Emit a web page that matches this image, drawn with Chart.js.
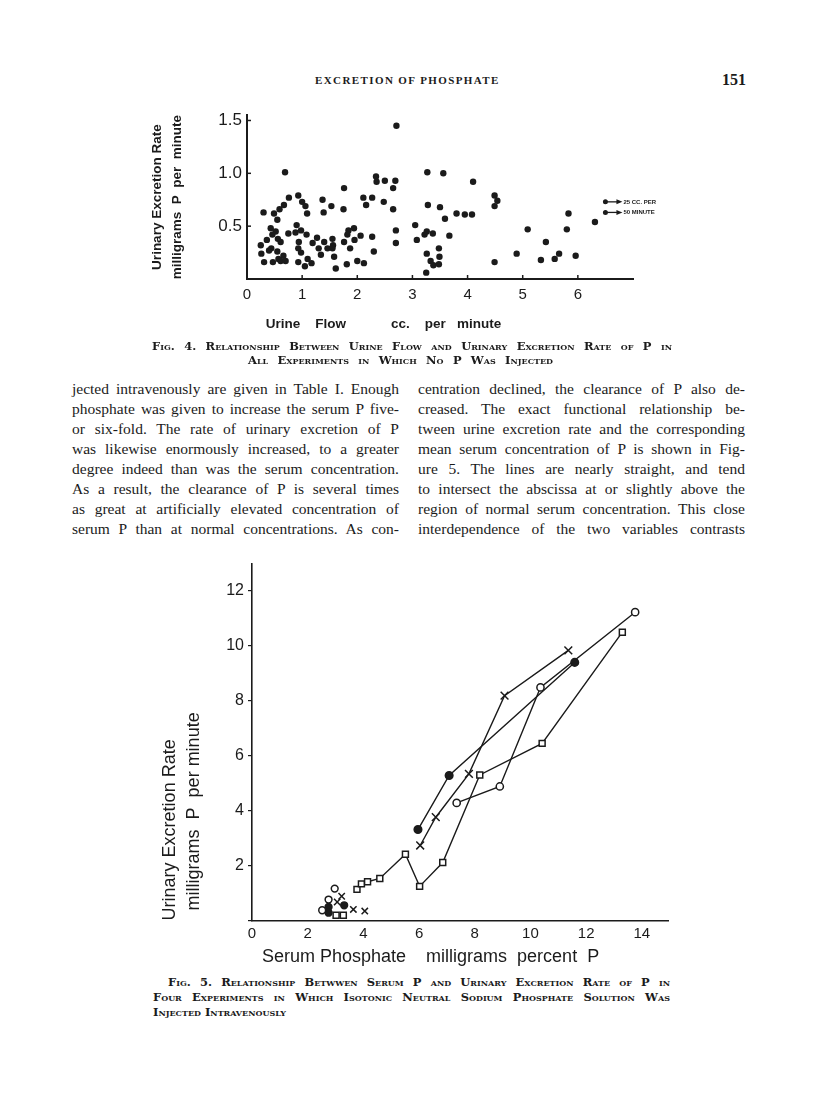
<!DOCTYPE html>
<html lang="en">
<head>
<meta charset="utf-8">
<title>Excretion of Phosphate</title>
<script src="https://cdn.jsdelivr.net/npm/chart.js@4.4.1/dist/chart.umd.min.js"></script>
<style>
  html, body { margin: 0; padding: 0; background: #fff; }
  #page { position: relative; width: 816px; height: 1101px; overflow: hidden; color: #1b1b1b; font-family: "Liberation Serif", "DejaVu Serif", serif; }
  .abs { position: absolute; white-space: nowrap; }
  .head { font-weight: bold; font-size: 11px; line-height: 14px; letter-spacing: 1.4px; }
  .caption { position: absolute; font-family: "DejaVu Serif", serif; font-weight: bold; font-variant: small-caps; font-size: 11.5px; line-height: 13px; }
  .just { text-align: justify; text-align-last: justify; }
  .col { position: absolute; width: 327px; font-size: 15.5px; line-height: 20px; }
  .col div { text-align: justify; text-align-last: justify; }
  canvas { position: absolute; }
</style>
</head>
<body>
<div id="page">

  <div class="abs head" style="left:315px; top:73px;">EXCRETION OF PHOSPHATE</div>
  <div class="abs" style="left:722px; top:71px; font-size:16px; line-height:18px; font-weight:bold;">151</div>

  <canvas id="fig4" width="520" height="242" style="left:140px; top:100px;"></canvas>

  <div class="caption just" style="left:152px; top:340px; width:520px;">Fig. 4. Relationship Between Urine Flow and Urinary Excretion Rate of P in</div>
  <div class="caption just" style="left:248px; top:354px; width:305px;">All Experiments in Which No P Was Injected</div>

  <div class="col" style="left:72px; top:379px;">
    <div>jected intravenously are given in Table I. Enough</div>
    <div>phosphate was given to increase the serum P five-</div>
    <div>or six-fold. The rate of urinary excretion of P</div>
    <div>was likewise enormously increased, to a greater</div>
    <div>degree indeed than was the serum concentration.</div>
    <div>As a result, the clearance of P is several times</div>
    <div>as great at artificially elevated concentration of</div>
    <div>serum P than at normal concentrations. As con-</div>
  </div>
  <div class="col" style="left:418px; top:379px;">
    <div>centration declined, the clearance of P also de-</div>
    <div>creased. The exact functional relationship be-</div>
    <div>tween urine excretion rate and the corresponding</div>
    <div>mean serum concentration of P is shown in Fig-</div>
    <div>ure 5. The lines are nearly straight, and tend</div>
    <div>to intersect the abscissa at or slightly above the</div>
    <div>region of normal serum concentration. This close</div>
    <div>interdependence of the two variables contrasts</div>
  </div>

  <canvas id="fig5" width="545" height="420" style="left:140px; top:550px;"></canvas>

  <div class="caption just" style="left:168px; top:976px; width:502px;">Fig. 5. Relationship Betwwen Serum P and Urinary Excretion Rate of P in</div>
  <div class="caption just" style="left:153px; top:991px; width:517px;">Four Experiments in Which Isotonic Neutral Sodium Phosphate Solution Was</div>
  <div class="caption" style="left:153px; top:1006px;">Injected Intravenously</div>

</div>

<script>
// Fig. 4 : urine flow (cc. per minute) against urinary excretion of P (mg per minute)
const flowX = [
  0.69, 1.76, 0.30, 0.49, 0.59, 0.67, 0.76, 0.93, 1.00, 1.06, 1.09, 1.37, 1.39, 1.53, 1.75,
  0.55, 0.90, 0.43, 0.52, 0.75, 0.88, 0.98, 1.08, 0.25, 0.36, 0.46, 0.56, 0.61, 0.94, 1.19,
  1.27, 1.40, 1.55, 1.56, 1.76, 0.26, 0.40, 0.44, 0.55, 0.66, 0.93, 0.98, 1.30, 1.46, 1.55,
  1.58, 1.34, 0.31, 0.47, 0.57, 0.61, 0.70, 0.93, 1.05, 1.10, 1.17, 1.61, 1.81, 1.84, 1.82,
  1.87, 2.34, 2.35, 2.50, 2.69, 2.65, 2.11, 2.27, 2.16, 2.48, 2.65, 3.27, 3.56, 3.28, 3.50,
  3.59, 3.05, 1.94, 2.06, 1.95, 2.27, 2.70, 2.70, 2.30, 2.00, 2.12, 3.08, 3.26, 3.22, 3.37,
  3.67, 3.26, 3.48, 3.33, 3.49, 3.38, 3.48, 3.25, 2.71, 4.10, 3.80, 3.95, 4.08, 4.49, 4.54,
  4.49, 4.49, 5.09, 4.89, 5.42, 5.33, 5.58, 5.66, 5.83, 5.80, 5.96, 6.31
];
const flowY = [
  1.01, 0.86, 0.63, 0.62, 0.66, 0.70, 0.77, 0.79, 0.73, 0.69, 0.62, 0.75, 0.63, 0.69, 0.66,
  0.56, 0.51, 0.48, 0.45, 0.43, 0.44, 0.46, 0.42, 0.32, 0.37, 0.42, 0.38, 0.35, 0.35, 0.34,
  0.39, 0.35, 0.38, 0.32, 0.35, 0.24, 0.27, 0.29, 0.26, 0.22, 0.29, 0.25, 0.29, 0.29, 0.29,
  0.21, 0.23, 0.16, 0.16, 0.19, 0.17, 0.17, 0.16, 0.12, 0.19, 0.15, 0.10, 0.14, 0.46, 0.42,
  0.29, 0.97, 0.92, 0.93, 0.93, 0.86, 0.77, 0.77, 0.70, 0.73, 0.66, 1.01, 1.00, 0.70, 0.68,
  0.57, 0.51, 0.48, 0.41, 0.37, 0.40, 0.46, 0.34, 0.26, 0.17, 0.15, 0.37, 0.45, 0.42, 0.43,
  0.41, 0.24, 0.29, 0.17, 0.21, 0.13, 0.14, 0.06, 1.45, 0.92, 0.62, 0.61, 0.61, 0.79, 0.74,
  0.69, 0.16, 0.47, 0.24, 0.35, 0.18, 0.19, 0.24, 0.62, 0.47, 0.22, 0.54
];
// two runs far off the scale, drawn at the edge with an arrow
const offScaleX = 6.5;
const offScaleY = [0.73, 0.63];
const offScaleLabels = ['25 CC. PER', '50 MINUTE'];

// Fig. 5 : serum P (mg per cent) against urinary excretion of P (mg per minute)
const serumDot = [5.96, 7.08, 11.59];
const rateDot = [3.31, 5.28, 9.40];
const serumCross = [6.04, 6.60, 7.79, 9.07, 11.36];
const rateCross = [2.73, 3.76, 5.34, 8.19, 9.84];
const serumRing = [7.35, 8.90, 10.36, 13.76];
const rateRing = [4.28, 4.88, 8.49, 11.23];
const serumSquare = [3.77, 3.93, 4.15, 4.59, 5.51, 6.02, 6.85, 8.18, 10.42, 13.30];
const rateSquare = [1.13, 1.33, 1.41, 1.53, 2.41, 1.24, 2.11, 5.30, 6.45, 10.50];

// control periods (before injection), not joined
const ctrlSerumDot = [2.75, 2.75, 3.31];
const ctrlRateDot = [0.49, 0.28, 0.55];
const ctrlSerumCross = [3.22, 3.06, 3.64, 4.05];
const ctrlRateCross = [0.88, 0.67, 0.40, 0.34];
const ctrlSerumRing = [2.97, 2.75, 2.52];
const ctrlRateRing = [1.16, 0.76, 0.37];
const ctrlSerumSquare = [3.02, 3.28];
const ctrlRateSquare = [0.19, 0.19];

const INK = '#1b1b1b';
Chart.defaults.font.family = '"Liberation Sans", Arial, sans-serif';
Chart.defaults.color = INK;

const pts = (xs, ys) => xs.map((x, i) => ({ x: x, y: ys[i] }));

// ---- arrows for the off-scale points of fig. 4
const offScaleArrows = {
  id: 'offScaleArrows',
  afterDatasetsDraw(chart) {
    const meta = chart.getDatasetMeta(1);
    const c = chart.ctx;
    c.save();
    c.strokeStyle = INK;
    c.fillStyle = INK;
    c.lineWidth = 1.3;
    c.font = 'bold 6px "Liberation Sans"';
    c.textBaseline = 'middle';
    meta.data.forEach((p, i) => {
      c.beginPath();
      c.moveTo(p.x, p.y);
      c.lineTo(p.x + 12, p.y);
      c.stroke();
      c.beginPath();
      c.moveTo(p.x + 11, p.y - 2.5);
      c.lineTo(p.x + 17, p.y);
      c.lineTo(p.x + 11, p.y + 2.5);
      c.closePath();
      c.fill();
      c.fillText(offScaleLabels[i], p.x + 18, p.y);
    });
    c.restore();
  }
};

// ---- small tick marks pointing into the plot (fig. 4)
const innerTicks = {
  id: 'innerTicks',
  afterDraw(chart) {
    const { ctx, scales: { x, y } } = chart;
    ctx.save();
    ctx.strokeStyle = INK;
    ctx.lineWidth = 1.5;
    x.ticks.forEach(t => {
      if (t.value > 0 && t.value <= 6) {
        const px = x.getPixelForValue(t.value);
        ctx.beginPath();
        ctx.moveTo(px, y.bottom);
        ctx.lineTo(px, y.bottom - 4);
        ctx.stroke();
      }
    });
    y.ticks.forEach(t => {
      if (t.value > 0) {
        const py = y.getPixelForValue(t.value);
        ctx.beginPath();
        ctx.moveTo(x.left, py);
        ctx.lineTo(x.left + 4, py);
        ctx.stroke();
      }
    });
    ctx.restore();
  }
};

// ---- fig. 4
new Chart(document.getElementById('fig4'), {
  type: 'scatter',
  data: {
    datasets: [
      {
        data: pts(flowX, flowY),
        pointRadius: 3.2,
        backgroundColor: INK,
        borderWidth: 0
      },
      {
        data: offScaleY.map(y => ({ x: offScaleX, y: y })),
        pointRadius: 2.5,
        backgroundColor: INK,
        borderWidth: 0
      }
    ]
  },
  options: {
    responsive: false,
    animation: false,
    layout: { padding: { top: 8.5, right: 27, left: 0, bottom: 0 } },
    plugins: { legend: { display: false }, tooltip: { enabled: false } },
    scales: {
      x: {
        type: 'linear',
        min: 0,
        max: 7,
        border: { color: INK, width: 2 },
        grid: { display: false, drawTicks: false },
        ticks: {
          stepSize: 1,
          includeBounds: false,
          padding: 7,
          font: { size: 15 },
          callback: v => (v > 6 ? '' : v)
        },
        title: {
          display: true,
          text: '     Urine    Flow            cc.    per   minute',
          align: 'start',
          font: { size: 13.5, weight: 'bold' },
          padding: { top: 0, bottom: 10 }
        },
        afterFit: s => { s.height = 63; }
      },
      y: {
        min: 0,
        max: 1.55,
        border: { color: INK, width: 2 },
        grid: { display: false, drawTicks: false },
        ticks: {
          stepSize: 0.5,
          includeBounds: false,
          padding: 5,
          font: { size: 17 },
          callback: v => (v === 0 ? '' : v.toFixed(1))
        },
        title: {
          display: true,
          text: ['Urinary Excretion Rate', 'milligrams  P  per  minute'],
          font: { size: 13.5, weight: 'bold', lineHeight: 1.48 },
          padding: { top: 7.5, bottom: 0 }
        },
        afterFit: s => { s.width = 107; }
      }
    }
  },
  plugins: [offScaleArrows, innerTicks]
});

// ---- fig. 5
const lineSet = (data, style, radius, fill) => ({
  data: data,
  showLine: true,
  borderColor: INK,
  borderWidth: 1.4,
  pointStyle: style,
  pointRadius: radius,
  pointBorderColor: INK,
  pointBorderWidth: 1.5,
  pointBackgroundColor: fill
});
const ctrlSet = (data, style, radius, fill) => Object.assign(lineSet(data, style, radius, fill), { showLine: false });

new Chart(document.getElementById('fig5'), {
  type: 'scatter',
  data: {
    datasets: [
      lineSet(pts(serumSquare, rateSquare), 'rect', 4.2, '#fff'),
      lineSet(pts(serumRing, rateRing), 'circle', 3.6, '#fff'),
      lineSet(pts(serumCross, rateCross), 'crossRot', 5.5, INK),
      lineSet(pts(serumDot, rateDot), 'circle', 3.8, INK),
      ctrlSet(pts(ctrlSerumSquare, ctrlRateSquare), 'rect', 4.2, '#fff'),
      ctrlSet(pts(ctrlSerumRing, ctrlRateRing), 'circle', 3.4, '#fff'),
      ctrlSet(pts(ctrlSerumCross, ctrlRateCross), 'crossRot', 4.5, INK),
      ctrlSet(pts(ctrlSerumDot, ctrlRateDot), 'circle', 3.4, INK)
    ]
  },
  options: {
    responsive: false,
    animation: false,
    layout: { padding: { top: 10.7, right: 17, left: 0, bottom: 0 } },
    plugins: { legend: { display: false }, tooltip: { enabled: false } },
    scales: {
      x: {
        type: 'linear',
        min: 0,
        max: 14.94,
        border: { color: INK, width: 1.6 },
        grid: { display: false, drawTicks: false },
        ticks: {
          stepSize: 2,
          includeBounds: false,
          padding: 4,
          font: { size: 15 }
        },
        title: {
          display: true,
          text: '  Serum Phosphate    milligrams  percent  P',
          align: 'start',
          font: { size: 18 },
          padding: { top: 0, bottom: 2.2 }
        },
        afterFit: s => { s.height = 49.6; }
      },
      y: {
        min: 0,
        max: 13,
        border: { color: INK, width: 1.6 },
        grid: { drawOnChartArea: false, drawTicks: true, tickLength: 4, color: INK, lineWidth: 1.2 },
        ticks: {
          stepSize: 2,
          includeBounds: false,
          padding: 4,
          font: { size: 16 },
          callback: v => (v === 0 ? '' : v)
        },
        title: {
          display: true,
          text: ['Urinary Excretion Rate', '  milligrams  P  per minute'],
          align: 'start',
          font: { size: 18, lineHeight: 1.36 },
          padding: { top: 17.75, bottom: 0 }
        },
        afterFit: s => { s.width = 112; }
      }
    }
  }
});
</script>
</body>
</html>
